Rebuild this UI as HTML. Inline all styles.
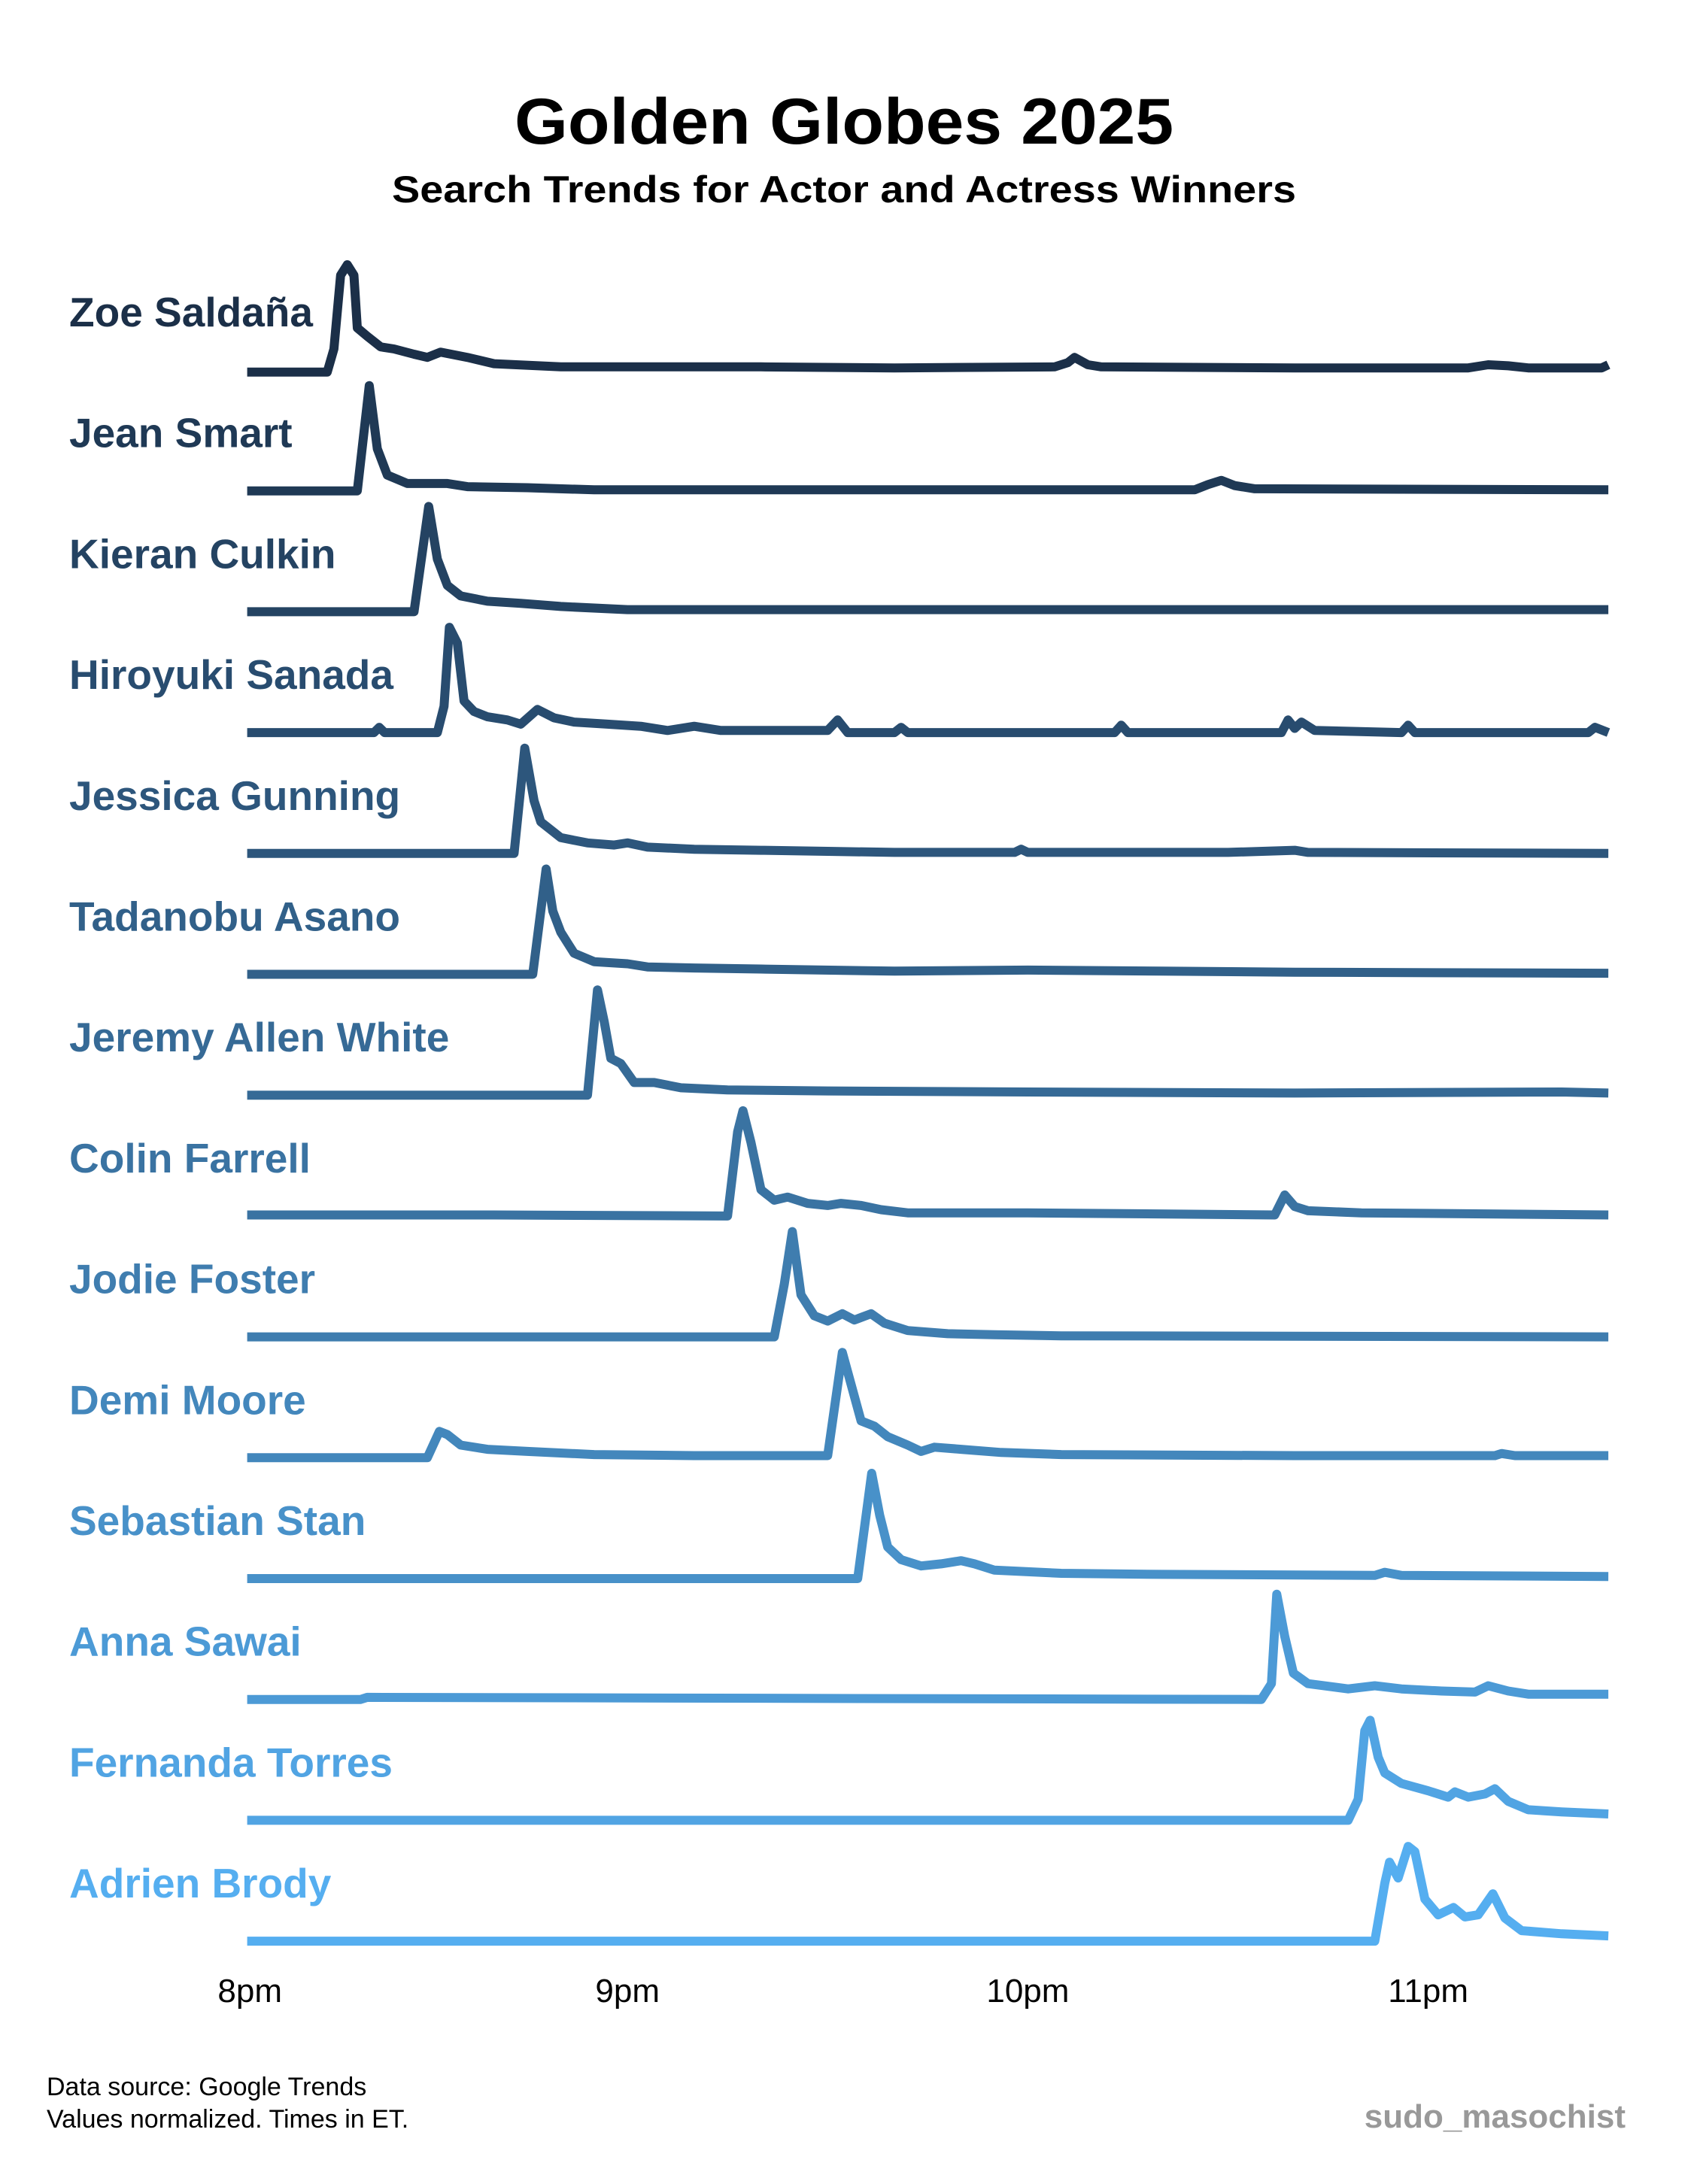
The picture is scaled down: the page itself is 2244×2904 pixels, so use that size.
<!DOCTYPE html>
<html><head><meta charset="utf-8"><style>
html,body{margin:0;padding:0;background:#fff}
svg{display:block}
text{font-family:"Liberation Sans",Arial,sans-serif}
</style></head><body>
<svg id="chart" width="2244" height="2904" viewBox="0 0 2244 2904" xmlns="http://www.w3.org/2000/svg">
<rect width="2244" height="2904" fill="#fff"/>
<text x="1122" y="191" text-anchor="middle" font-size="86" font-weight="bold" fill="#000" textLength="876" lengthAdjust="spacingAndGlyphs">Golden Globes 2025</text>
<text x="1122" y="269" text-anchor="middle" font-size="50" font-weight="bold" fill="#000" textLength="1202" lengthAdjust="spacingAndGlyphs">Search Trends for Actor and Actress Winners</text>
<g id="series"></g>
<g id="axis"></g>
<text x="62" y="2786" font-size="34" fill="#000">Data source: Google Trends</text>
<text x="62" y="2829" font-size="34" fill="#000">Values normalized. Times in ET.</text>
<text x="2161" y="2829" text-anchor="end" font-size="44" font-weight="bold" fill="#999">sudo_masochist</text>
</svg>
<script>
const names = ["Zoe Saldaña","Jean Smart","Kieran Culkin","Hiroyuki Sanada","Jessica Gunning","Tadanobu Asano","Jeremy Allen White","Colin Farrell","Jodie Foster","Demi Moore","Sebastian Stan","Anna Sawai","Fernanda Torres","Adrien Brody"];
const tickLabels = ["8pm","9pm","10pm","11pm"];
const tickMinutes = [3.4,60,120,180];
// each series: [minutes after 8pm, normalized value]
const zoe = [[3,-2],[15,-2],[16,20],[17,90],[18,100],[19,90],[19.5,40],[21,32],[23,22],[25,20],[28,15],[30,12],[32,17],[36,12],[40,6],[50,3],[80,3],[100,2],[124,3],[126,7],[127,12],[129,5],[131,3],[160,2],[186,2],[189,5],[192,4],[195,2],[206,2],[207,5]];
const jean = [[3,0],[19.5,0],[21.3,100],[22.5,40],[24,15],[27,7],[33,7],[36,4],[45,3],[55,1],[100,1],[145,1],[147,6],[149,10],[151,5],[154,2],[207,1]];
const kieran = [[3,0],[28,0],[30.2,100],[31.5,50],[33,25],[35,15],[39,10],[44,8],[50,5],[60,2],[100,2],[207,2]];
const hiroyuki = [[3,0],[22,0],[22.8,5],[23.6,0],[31.5,0],[32.5,25],[33.3,100],[34.5,85],[35.5,30],[37,20],[39,15],[42,12],[44,8],[46.5,22],[49,14],[52,10],[57,8],[62,6],[66,2],[70,6],[74,2],[90,2],[91.5,12],[93,0],[100,0],[101,5],[102,0],[133,0],[134,7],[135,0],[158,0],[159,12],[160,4],[161,10],[163,2],[176,0],[177,7],[178,0],[204,0],[205,5],[207,0]];
const jessica = [[3,0],[43,0],[44.6,100],[46,50],[47,30],[50,15],[54,10],[58,8],[60,10],[63,6],[70,4],[80,3],[90,2],[100,1],[118,1],[119,4],[120,1],[150,1],[160,3],[162,1],[207,0]];
const tadanobu = [[3,0],[45.8,0],[47.8,100],[48.8,60],[50,40],[52,20],[55,12],[60,10],[63,7],[70,6],[80,5],[100,3],[120,4],[140,3],[160,2],[207,1]];
const jeremy = [[3,0],[54,0],[55.5,100],[56.5,70],[57.5,35],[59,30],[61,12],[64,12],[68,7],[75,5],[90,4],[120,3],[160,2],[200,3],[207,2]];
const colin = [[3,1],[40,1],[75,0],[76.5,80],[77.3,100],[78.5,70],[80,25],[82,15],[84,18],[87,12],[90,10],[92,12],[95,10],[98,6],[102,3],[120,3],[157,1],[158.5,20],[160,9],[162,5],[170,3],[207,1]];
const jodie = [[3,0],[82,0],[83.5,50],[84.7,100],[86,40],[88,20],[90,15],[92.2,22],[94,16],[96.5,22],[98.5,13],[102,6],[108,3],[115,2],[125,1],[207,0]];
const demi = [[3,0],[30,0],[31.8,25],[33,22],[35,12],[39,8],[45,6],[55,3],[70,2],[90,2],[92.2,100],[93.5,70],[95,35],[97,30],[99,20],[102,12],[104,6],[106,10],[110,8],[116,5],[125,3],[160,2],[190,2],[191,4],[193,2],[207,2]];
const sebastian = [[3,0],[94.5,0],[96.6,100],[97.8,60],[99,30],[101,18],[104,12],[107,14],[110,17],[112,14],[115,8],[125,5],[140,4],[172,3],[173.5,6],[176,3],[207,2]];
const anna = [[3,0],[20,0],[21,2],[155,0],[156.5,15],[157.3,100],[158.5,60],[159.8,25],[162,15],[168,10],[172,13],[176,10],[182,8],[187,7],[189,13],[192,8],[195,5],[207,5]];
const fernanda = [[3,0],[168,0],[169.5,20],[170.5,85],[171.3,95],[172.5,60],[173.5,45],[176,35],[180,28],[183,22],[184,27],[186,22],[188.5,25],[190,30],[192,18],[195,10],[200,8],[207,6]];
const adrien = [[3,0],[172,0],[173.5,55],[174.2,75],[175.5,60],[177,90],[178,85],[179.5,40],[181.5,25],[183.8,32],[185.5,23],[187.5,25],[189.7,45],[191.5,22],[194,10],[200,7],[207,5]];
const allSeries = [zoe,jean,kieran,hiroyuki,jessica,tadanobu,jeremy,colin,jodie,demi,sebastian,anna,fernanda,adrien];

const NS="http://www.w3.org/2000/svg";
const xScale = m => 302 + (m) * 8.87;
const rowBase = i => 492 + i * 160.7;
const yScale = (v,i) => rowBase(i) - v * 1.4;
const c0=[27,47,72], c1=[85,174,240];
function col(i){const t=i/13;return "rgb("+c0.map((c,k)=>Math.round(c+(c1[k]-c)*t)).join(",")+")";}
const g=document.getElementById("series");
allSeries.forEach((s,i)=>{
  const p=document.createElementNS(NS,"path");
  p.setAttribute("d", s.map((d,j)=>(j?"L":"M")+xScale(d[0]).toFixed(1)+","+yScale(d[1],i).toFixed(1)).join(""));
  p.setAttribute("fill","none");p.setAttribute("stroke",col(i));p.setAttribute("stroke-width","12");
  p.setAttribute("stroke-linejoin","round");
  
  
  g.appendChild(p);
  const t=document.createElementNS(NS,"text");
  t.setAttribute("x","92");t.setAttribute("y",(rowBase(i)-58).toFixed(1));
  t.setAttribute("font-size","55");t.setAttribute("font-weight","bold");t.setAttribute("fill",col(i));
  t.textContent=names[i];
  
  
  g.appendChild(t);
});
const ax=document.getElementById("axis");
tickLabels.forEach((l,i)=>{
  const t=document.createElementNS(NS,"text");
  t.setAttribute("x",xScale(tickMinutes[i]).toFixed(1));t.setAttribute("y","2662");
  t.setAttribute("text-anchor","middle");t.setAttribute("font-size","44");t.setAttribute("fill","#000");
  t.textContent=l;
  
  
  ax.appendChild(t);
});
</script>
</body></html>
